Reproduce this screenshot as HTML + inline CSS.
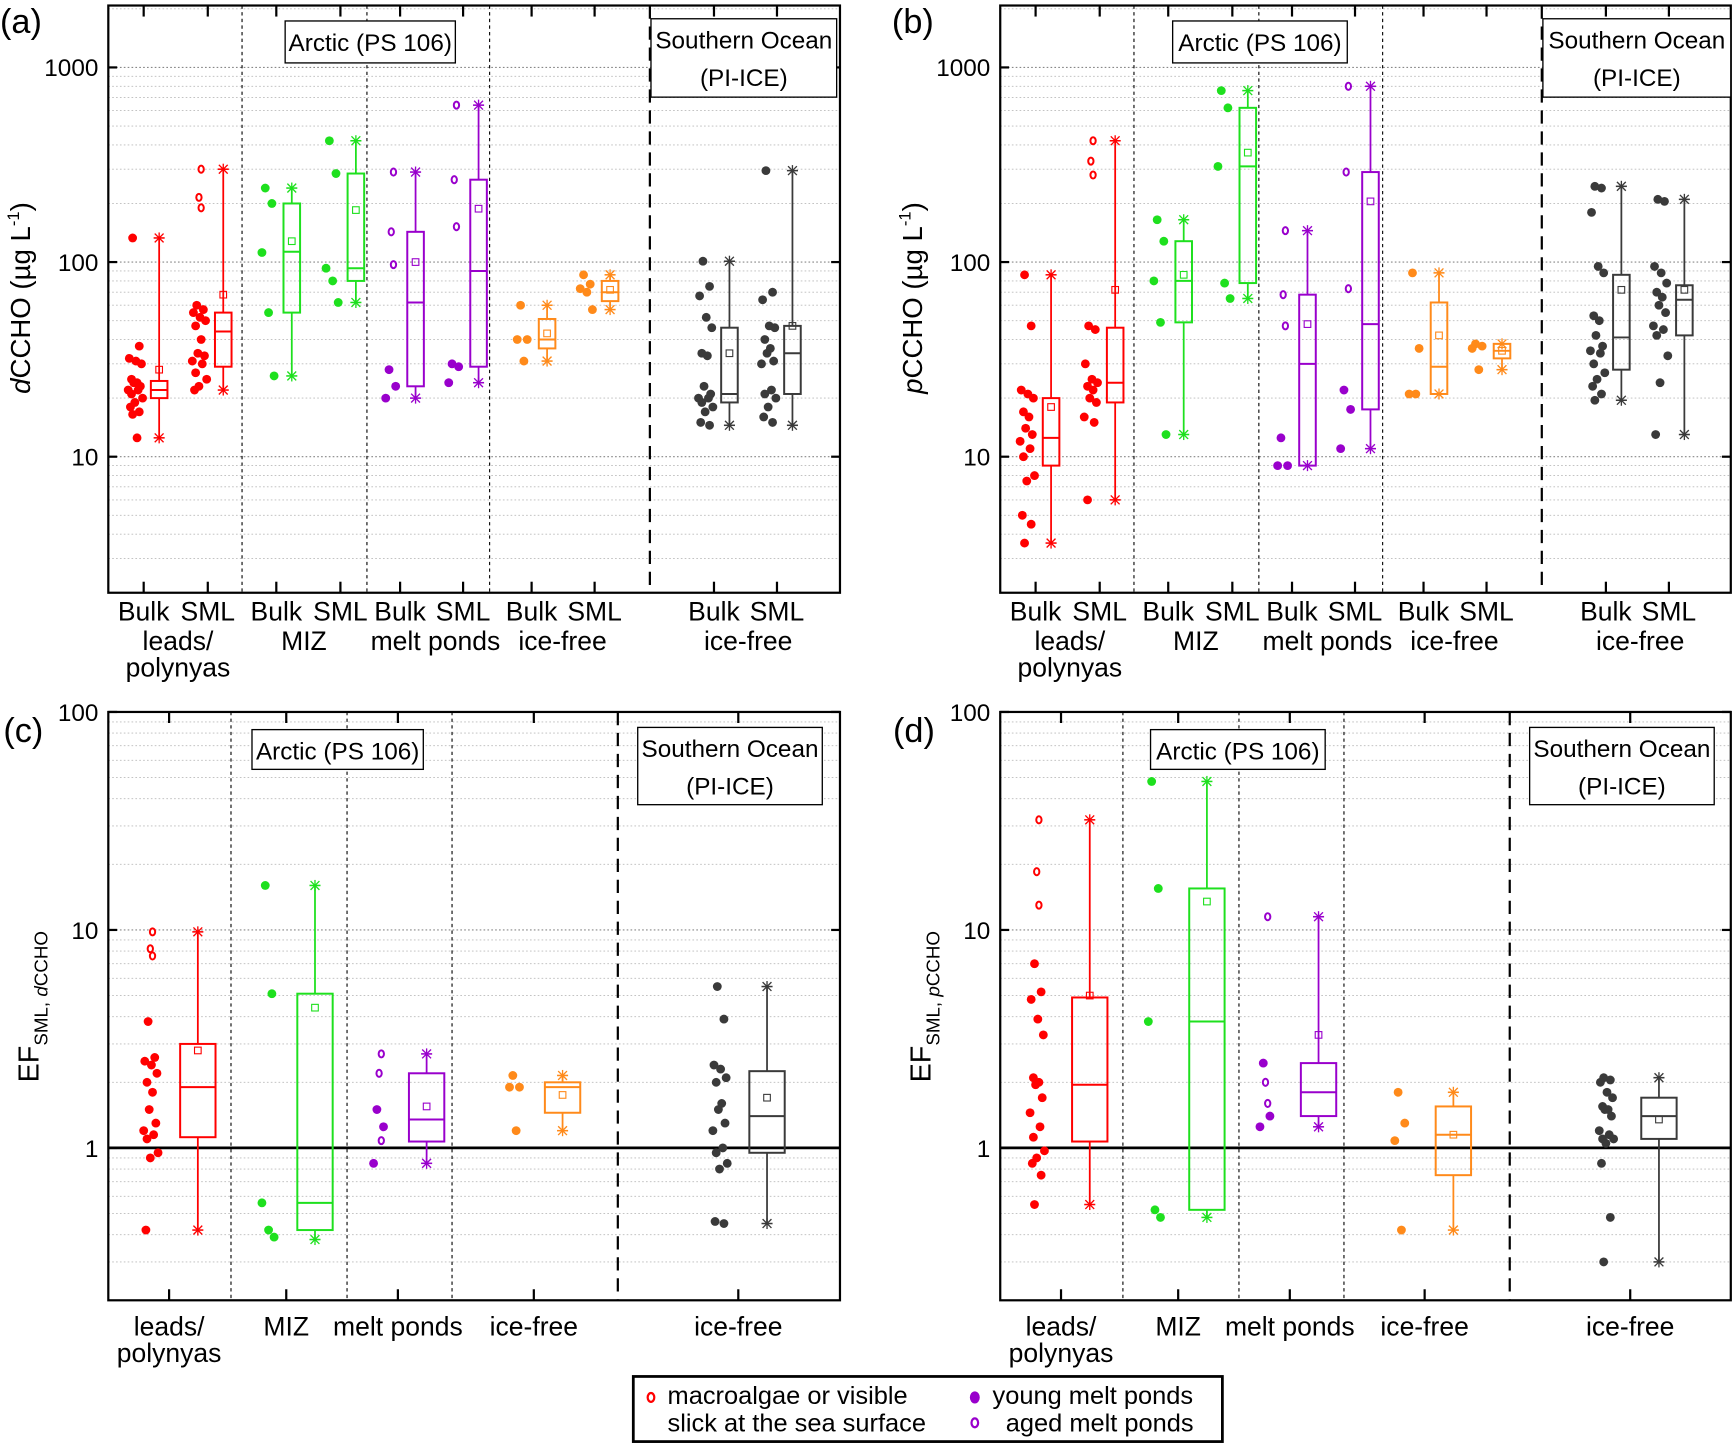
<!DOCTYPE html>
<html><head><meta charset="utf-8"><style>
html,body{margin:0;padding:0;background:#fff}
svg{display:block}
text{font-family:"Liberation Sans",sans-serif;fill:#000}
</style></head><body>
<svg id="fig" width="1733" height="1446" viewBox="0 0 1568 1310" preserveAspectRatio="none" xmlns="http://www.w3.org/2000/svg"></svg>
<script>
// ---------- DATA ----------
const pairCategories = ["leads/polynyas Bulk","leads/polynyas SML","MIZ Bulk","MIZ SML","melt ponds Bulk","melt ponds SML","ice-free Bulk","ice-free SML","SO ice-free Bulk","SO ice-free SML"];
const efCategories = ["leads/polynyas","MIZ","melt ponds","ice-free","SO ice-free"];

const aLow  = [12.5,22,26,62,20,24,31,57,14.5,14.5];
const aQ1   = [20,29,55,80,23,29,36,63,19,21];
const aMed  = [22,44,113,93,62,90,40,70,21,34];
const aQ3   = [24.5,55,200,285,143,265,51,80,46,47];
const aHigh = [133,300,240,420,290,640,60,86,101,295];
const aMean = [28,68,128,185,100,188,43,72,34,47];
const aFilled = [[133,37,32,31,30,25,24,24,23,22,22,21,20,19,18,17,16.5,12.5],[60,57,55,52,50,47,40,34,33,31,30,27,25,23,22],[240,200,112,55,26],[420,285,93,80,62],[28,23,20],[30,29,24],[60,40,40,31],[86,77,73,70,57],[101,75,67,52,46,34,33,23,21,20,20,19,18,17,15,14.5],[295,70,64,47,46,40,36,34,31,30,22,21,20,18,16,15]];
const aOpen = [[],[300,215,190],[],[],[290,143,97],[640,265,152],[],[],[],[]];

const bLow  = [3.6,6,13,65,9,11,21,28,19.5,13];
const bQ1   = [9,19,49,78,9,17.5,21,32,28,42];
const bMed  = [12.5,24,80,310,30,48,29,35,41,64];
const bQ3   = [20,46,128,620,68,290,62,38,86,76];
const bHigh = [86,420,165,760,145,800,88,38,245,210];
const bMean = [18,72,86,365,48,205,42,35,72,72];
const bFilled = [[86,47,22,21,20,17,16,14,13,12,11,10,8,7.5,5,4.5,3.6],[47,45,30,25,24,23,22,20,19,16,15,6],[165,128,80,49,13],[760,620,310,78,65],[12.5,9,9],[22,17.5,11],[88,36,21,21],[38,37,36,28],[245,240,180,95,88,53,50,42,37,35,34,30,27,25,23,21,19.5],[210,205,95,88,78,70,66,60,55,47,45,42,33,24,13]];
const bOpen = [[],[420,330,280],[],[],[145,68,47],[800,290,73],[],[],[],[]];

const cLow  = [0.42,0.38,0.85,1.2,0.45];
const cQ1   = [1.12,0.42,1.07,1.45,0.95];
const cMed  = [1.9,0.56,1.35,1.9,1.4];
const cQ3   = [3.0,5.1,2.2,2.0,2.25];
const cHigh = [9.8,16,2.7,2.15,5.5];
const cMean = [2.8,4.4,1.55,1.75,1.7];
const cFilled = [[3.8,2.6,2.5,2.4,2.2,2.0,1.8,1.5,1.3,1.2,1.15,1.1,0.95,0.9,0.42],[16,5.1,0.56,0.42,0.39],[1.5,1.25,0.85],[2.15,1.9,1.9,1.2],[5.5,3.9,2.4,2.3,2.1,2.0,1.6,1.5,1.3,1.2,1.0,0.95,0.85,0.8,0.46,0.45]];
const cOpen = [[9.8,8.2,7.6],[],[2.7,2.2,1.08],[],[]];

const dLow  = [0.55,0.48,1.25,0.42,0.3];
const dQ1   = [1.07,0.52,1.4,0.75,1.1];
const dMed  = [1.95,3.8,1.8,1.15,1.4];
const dQ3   = [4.9,15.5,2.45,1.55,1.7];
const dHigh = [32,48,11.5,1.8,2.1];
const dMean = [5.0,13.5,3.3,1.15,1.35];
const dFilled = [[7,5.2,4.8,3.9,3.3,2.1,2.0,1.95,1.7,1.45,1.25,1.12,0.97,0.9,0.85,0.75,0.55],[48,15.5,3.8,0.52,0.48],[2.45,1.4,1.25],[1.8,1.3,1.08,0.42],[2.1,2.05,2.0,1.8,1.7,1.55,1.5,1.5,1.4,1.2,1.15,1.1,1.1,1.05,0.85,0.48,0.3]];
const dOpen = [[32,18.5,13],[],[11.5,2.0,1.6],[],[]];

// ---------- RENDERING ----------
const NS = "http://www.w3.org/2000/svg";
const svg = document.getElementById("fig");
function el(tag, attrs, parent){
  const e = document.createElementNS(NS, tag);
  for (const k in attrs) e.setAttribute(k, attrs[k]);
  (parent||svg).appendChild(e);
  return e;
}
const RED="#ff0000", GRN="#1ee01e", PUR="#9900cc", ORG="#ff8a1a", GRY="#3a3a3a";
const JIT = [-4,2,-7,-1,4,-5,0,-3,3,-8,1,-5,5,-2,-6,2,-4,0];

function drawPanel(p){
  const g = el("g", {});
  
  
  const logMin = Math.log10(p.yMin), logMax = Math.log10(p.yMax);
  const y = v => p.bottom - (Math.log10(v) - logMin) / (logMax - logMin) * (p.bottom - p.top);
  for (let e = Math.floor(logMin); e < Math.ceil(logMax); e++){
    for (let m = 1; m < 10; m++){
      const v = m*Math.pow(10,e);
      if (v <= p.yMin*1.0001 || v >= p.yMax*0.999) continue;
      const gl = el("line",{x1:p.left,x2:p.right,y1:y(v),y2:y(v),stroke:m===1?"#888":"#bbb","stroke-width":m===1?1:0.8,"stroke-dasharray":"1.5 2"},g);
      
      
    }
  }
  p.dividers.forEach(dx=>{
    const l = el("line",{x1:dx,x2:dx,y1:p.top,y2:p.bottom,stroke:"#000","stroke-width":1,"stroke-dasharray":"3 3"},g);
    
    
  });
  const sd = el("line",{x1:p.soDiv,x2:p.soDiv,y1:p.top,y2:p.bottom,stroke:"#000","stroke-width":2,"stroke-dasharray":"12 7"},g);
  
  
  if (p.refLine){
    const rl = el("line",{x1:p.left,x2:p.right,y1:y(1),y2:y(1),stroke:"#000","stroke-width":2.5},g);
    
    
  }
  const fr = el("rect",{x:p.left,y:p.top,width:p.right-p.left,height:p.bottom-p.top,fill:"none",stroke:"#000","stroke-width":2},g);
  
  
  p.yTicks.forEach(v=>{
    el("line",{x1:p.left,x2:p.left+8,y1:y(v),y2:y(v),stroke:"#000","stroke-width":2},g);
    el("line",{x1:p.right,x2:p.right-8,y1:y(v),y2:y(v),stroke:"#000","stroke-width":2},g);
    const t = el("text",{x:p.left-9,y:y(v)+8,"text-anchor":"end","font-size":22},g);
    t.textContent = String(v);
    
    
  });
  p.ticks.forEach(tx=>{
    el("line",{x1:tx,x2:tx,y1:p.bottom,y2:p.bottom-10,stroke:"#000","stroke-width":2},g);
    el("line",{x1:tx,x2:tx,y1:p.top,y2:p.top+10,stroke:"#000","stroke-width":2},g);
  });
  p.low.forEach((_,i)=>{
    const col = p.colors[i];
    const bx = p.ticks[i] + p.boxOff, w = p.boxW;
    const sg = el("g",{},g);
    
    
    el("line",{x1:bx,x2:bx,y1:y(p.low[i]),y2:y(p.q1[i]),stroke:col,"stroke-width":1.6},sg);
    el("line",{x1:bx,x2:bx,y1:y(p.q3[i]),y2:y(p.high[i]),stroke:col,"stroke-width":1.6},sg);
    [p.low[i],p.high[i]].forEach(v=>{
      const yy=y(v);
      el("line",{x1:bx-5,x2:bx+5,y1:yy,y2:yy,stroke:col,"stroke-width":1.4},sg);
      el("line",{x1:bx-4,x2:bx+4,y1:yy-4,y2:yy+4,stroke:col,"stroke-width":1.2},sg);
      el("line",{x1:bx-4,x2:bx+4,y1:yy+4,y2:yy-4,stroke:col,"stroke-width":1.2},sg);
      el("line",{x1:bx,x2:bx,y1:yy-5,y2:yy+5,stroke:col,"stroke-width":1.2},sg);
    });
    el("rect",{x:bx-w/2,y:y(p.q3[i]),width:w,height:y(p.q1[i])-y(p.q3[i]),fill:"none",stroke:col,"stroke-width":1.8},sg);
    el("line",{x1:bx-w/2,x2:bx+w/2,y1:y(p.med[i]),y2:y(p.med[i]),stroke:col,"stroke-width":1.8},sg);
    el("rect",{x:bx-3,y:y(p.mean[i])-3,width:6,height:6,fill:"none",stroke:col,"stroke-width":1},sg);
    const px0 = p.ticks[i] + p.ptOff;
    p.filled[i].forEach((v,j)=>{
      const c = el("circle",{cx:px0+JIT[j%JIT.length],cy:y(v),r:4,fill:col},sg);
      
      
    });
    p.open[i].forEach((v,j)=>{
      const c = el("ellipse",{cx:px0+(j%2?-2:0),cy:y(v),rx:2.4,ry:3.2,fill:"#fff",stroke:col,"stroke-width":1.8},sg);
      
      
    });
  });
  p.regionBoxes.forEach(rb=>{
    const r = el("rect",{x:rb[0],y:rb[1],width:rb[2],height:rb[3],fill:"#fff",stroke:"#000","stroke-width":1.2},g);
    
    
    rb[4].forEach((ln,k)=>{
      const t = el("text",{x:rb[0]+rb[2]/2,y:rb[1]+27+k*34,"text-anchor":"middle","font-size":22},g);
      t.textContent = ln;
      
      
    });
  });
  p.xLabels.forEach(xl=>{
    xl[2].forEach((ln,k)=>{
      const t = el("text",{x:xl[0],y:xl[1]+k*24,"text-anchor":"middle","font-size":24},g);
      t.textContent = ln;
      
      
    });
  });
  const pl = el("text",{x:p.letter[0],y:p.letter[1],"font-size":31},g);
  pl.textContent = p.letter[2];
  
  
  return g;
}

const pairColors=[RED,RED,GRN,GRN,PUR,PUR,ORG,ORG,GRY,GRY];
const efColors=[RED,GRN,PUR,ORG,GRY];
function pairLabels(off){
  const ticks=[130,188,250,308,362,419,481,538,646,703].map(v=>v+off);
  const L=[];
  ticks.forEach((t,i)=>L.push([t,562,[i%2?"SML":"Bulk"]]));
  L.push([161+off,589,["leads/","polynyas"]]);
  L.push([275+off,589,["MIZ"]]);
  L.push([394+off,589,["melt ponds"]]);
  L.push([509+off,589,["ice-free"]]);
  L.push([677+off,589,["ice-free"]]);
  return {ticks,L};
}
const pa = pairLabels(0), pb = pairLabels(807);
drawPanel({name:"panel-a-dccho",left:98,right:760,top:5,bottom:537,yMin:2,yMax:2080,yTicks:[10,100,1000],
  ticks:pa.ticks,boxOff:14,boxW:15,ptOff:-6,dividers:[219,332,443],soDiv:588,colors:pairColors,cats:pairCategories,
  low:aLow,q1:aQ1,med:aMed,q3:aQ3,high:aHigh,mean:aMean,filled:aFilled,open:aOpen,
  regionBoxes:[[258,19,154,38,["Arctic (PS 106)"]],[589,17,168,71,["Southern Ocean","(PI-ICE)"]]],
  xLabels:pa.L,letter:[0,30,"(a)"]});
drawPanel({name:"panel-b-pccho",left:905,right:1566,top:5,bottom:537,yMin:2,yMax:2080,yTicks:[10,100,1000],
  ticks:pb.ticks,boxOff:14,boxW:15,ptOff:-6,dividers:[1026,1139,1251],soDiv:1395,colors:pairColors,cats:pairCategories,
  low:bLow,q1:bQ1,med:bMed,q3:bQ3,high:bHigh,mean:bMean,filled:bFilled,open:bOpen,
  regionBoxes:[[1061,19,158,38,["Arctic (PS 106)"]],[1396,17,170,71,["Southern Ocean","(PI-ICE)"]]],
  xLabels:pb.L,letter:[807,30,"(b)"]});
drawPanel({name:"panel-c-ef-dccho",left:98,right:760,top:645,bottom:1178,yMin:0.2,yMax:100,yTicks:[1,10,100],
  ticks:[153,259,360,483,668],boxOff:26,boxW:32,ptOff:-15,dividers:[209,314,409],soDiv:559,colors:efColors,cats:efCategories,
  low:cLow,q1:cQ1,med:cMed,q3:cQ3,high:cHigh,mean:cMean,filled:cFilled,open:cOpen,refLine:true,
  regionBoxes:[[228,661,155,36,["Arctic (PS 106)"]],[577,659,167,70,["Southern Ocean","(PI-ICE)"]]],
  xLabels:[[153,1210,["leads/","polynyas"]],[259,1210,["MIZ"]],[360,1210,["melt ponds"]],[483,1210,["ice-free"]],[668,1210,["ice-free"]]],
  letter:[3,672,"(c)"]});
drawPanel({name:"panel-d-ef-pccho",left:905,right:1566,top:645,bottom:1178,yMin:0.2,yMax:100,yTicks:[1,10,100],
  ticks:[960,1066,1167,1289,1475],boxOff:26,boxW:32,ptOff:-20,dividers:[1016,1121,1216],soDiv:1366,colors:efColors,cats:efCategories,
  low:dLow,q1:dQ1,med:dMed,q3:dQ3,high:dHigh,mean:dMean,filled:dFilled,open:dOpen,refLine:true,
  regionBoxes:[[1041,661,158,36,["Arctic (PS 106)"]],[1384,659,167,70,["Southern Ocean","(PI-ICE)"]]],
  xLabels:[[960,1210,["leads/","polynyas"]],[1066,1210,["MIZ"]],[1167,1210,["melt ponds"]],[1289,1210,["ice-free"]],[1475,1210,["ice-free"]]],
  letter:[808,672,"(d)"]});
</script>
<script>
(function(){
  const svg=document.getElementById("fig");
  const m = `
  <text transform="translate(27,270) rotate(-90)" text-anchor="middle" font-size="25"><tspan font-style="italic">d</tspan>CCHO (µg L<tspan font-size="15" dy="-10">-1</tspan><tspan dy="10">)</tspan></text>
  <text transform="translate(834,270) rotate(-90)" text-anchor="middle" font-size="25"><tspan font-style="italic">p</tspan>CCHO (µg L<tspan font-size="15" dy="-10">-1</tspan><tspan dy="10">)</tspan></text>
  <text transform="translate(35,912) rotate(-90)" text-anchor="middle" font-size="26">EF<tspan font-size="17" dy="8">SML, </tspan><tspan font-size="17" font-style="italic">d</tspan><tspan font-size="17">CCHO</tspan></text>
  <text transform="translate(842,912) rotate(-90)" text-anchor="middle" font-size="26">EF<tspan font-size="17" dy="8">SML, </tspan><tspan font-size="17" font-style="italic">p</tspan><tspan font-size="17">CCHO</tspan></text>
  <g>
    <rect x="573" y="1247" width="533" height="59" fill="#fff" stroke="#000" stroke-width="2.5"/>
    <ellipse cx="589" cy="1266" rx="3" ry="4" fill="#fff" stroke="#ff0000" stroke-width="2"/>
    <text x="604" y="1272" font-size="23">macroalgae or visible</text>
    <text x="604" y="1297" font-size="23">slick at the sea surface</text>
    <ellipse cx="882" cy="1266" rx="4.5" ry="5.5" fill="#9900cc"/>
    <text x="898" y="1272" font-size="23">young melt ponds</text>
    <ellipse cx="882" cy="1289" rx="3" ry="4" fill="#fff" stroke="#9900cc" stroke-width="2"/>
    <text x="910" y="1297" font-size="23">aged melt ponds</text>
  </g>`;
  svg.insertAdjacentHTML("beforeend", m);
})();
</script>
</body></html>
